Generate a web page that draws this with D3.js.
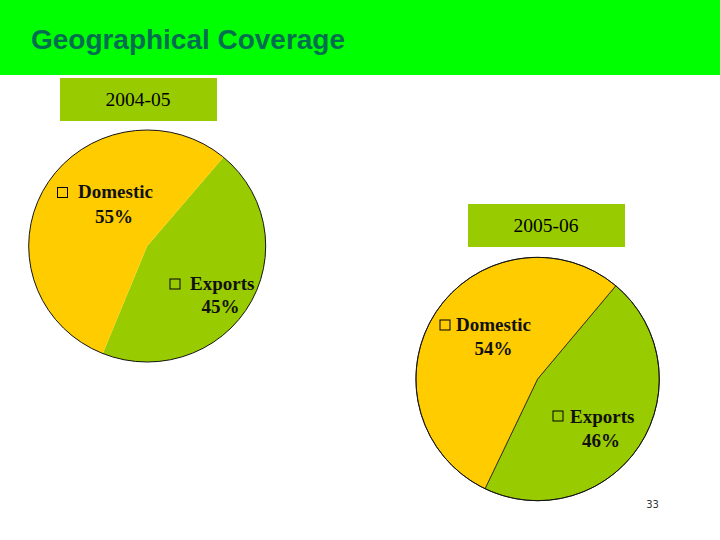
<!DOCTYPE html>
<html><head><meta charset="utf-8">
<script src="https://cdn.jsdelivr.net/npm/d3@7"></script>
<style>html,body{margin:0;padding:0;background:#fff}svg{display:block}</style>
</head><body>
<svg id="c" width="720" height="540"></svg>
<script>
const categories = ["Exports", "Domestic"];
const values0405 = [45, 55];
const values0506 = [46, 54];
const years = ["2004-05", "2005-06"];
const colors = d3.scaleOrdinal(categories, ["#99cc00", "#ffcc00"]);

const svg = d3.select("#c");
svg.append("rect").attr("width",720).attr("height",75).attr("fill","#00ff00");
svg.append("text").attr("x",31).attr("y",49).text("Geographical Coverage")
  .attr("font-family","'Liberation Sans',Arial,sans-serif").attr("font-weight","bold")
  .attr("font-size",28).attr("textLength",314).attr("fill","#006f50");

function yearBox(label,x,y){
  svg.append("rect").attr("x",x).attr("y",y).attr("width",157).attr("height",43).attr("fill","#99cc00");
  svg.append("text").attr("x",x+78).attr("y",y+28).attr("text-anchor","middle").text(label)
    .attr("font-family","'Liberation Serif',serif").attr("font-size",19.5).attr("fill","#000");
}
yearBox(years[0],60,78);
yearBox(years[1],468,204);

function pieChart(vals,cx,cy,rx,ry,startDeg,stroke){
  const start = startDeg*Math.PI/180;
  const pie = d3.pie().sort(null).startAngle(start).endAngle(start+2*Math.PI);
  const arc = d3.arc().innerRadius(0).outerRadius(rx);
  const g = svg.append("g").attr("transform",`translate(${cx},${cy}) scale(1,${ry/rx})`);
  g.selectAll("path").data(pie(vals)).join("path")
    .attr("d",arc).attr("fill",(d,i)=>colors(categories[i]))
    .attr("stroke",stroke).attr("stroke-width",0.8);
  g.append("circle").attr("r",rx).attr("fill","none").attr("stroke","#111").attr("stroke-width",1);
}
pieChart(values0405,147.2,246,118.5,116,40,"none");
pieChart(values0506,537.6,379,121.7,121.7,40,"#222");

function label(cat,val,bx,by,tx,ty,vx,vy){
  svg.append("rect").attr("x",bx).attr("y",by).attr("width",10).attr("height",10)
    .attr("fill","none").attr("stroke","#000").attr("stroke-width",1);
  const t = {"font-family":"'Liberation Serif',serif","font-weight":"bold","font-size":19,"fill":"#111"};
  const a = svg.append("text").attr("x",tx).attr("y",ty).text(cat);
  const b = svg.append("text").attr("x",vx).attr("y",vy).attr("text-anchor","middle").text(val+"%");
  for(const k in t){a.attr(k,t[k]);b.attr(k,t[k]);}
}
label(categories[1],values0405[1],57.5,187.5,78,198,114,223);
label(categories[0],values0405[0],170,279,190,290,220.5,313);
label(categories[1],values0506[1],440,320,456,331,493.5,355);
label(categories[0],values0506[0],553,411,570,423,601,447);

svg.append("text").attr("x",652.5).attr("y",508).attr("text-anchor","middle").text("33")
  .attr("font-family","'DejaVu Sans',sans-serif").attr("font-size",10).attr("fill","#333");
</script>
</body></html>
